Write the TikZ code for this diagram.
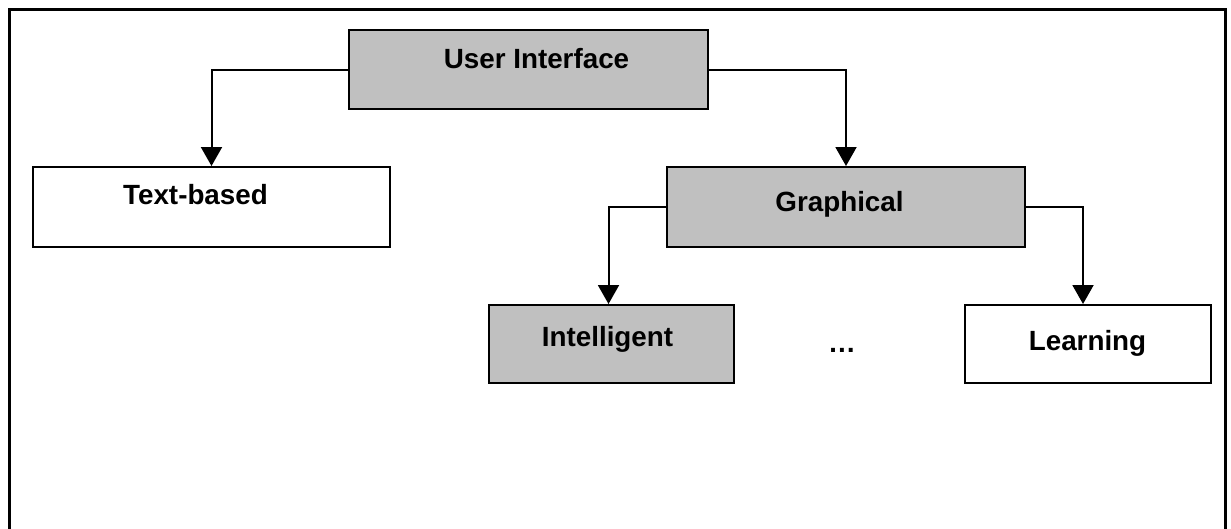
\documentclass[tikz,border=0pt]{standalone}
\usepackage{fontspec}
\setmainfont{Liberation Sans}
\usetikzlibrary{arrows.meta}
\begin{document}
\begin{tikzpicture}[x=1pt,y=-1pt,
  box/.style={draw=black,line width=2pt,minimum width=#1,inner sep=0pt,anchor=north west},
  grey/.style={fill={rgb,255:red,192;green,192;blue,192}},
  lbl/.style={font=\fontsize{27.8}{30}\selectfont\bfseries,anchor=base,inner sep=0pt},
  conn/.style={draw=black,line width=2pt,-{Triangle[width=21pt,length=19pt]}}]
\useasboundingbox (0,0) rectangle (1231,528);
% outer frame, open at the bottom
\draw[line width=3pt] (9,540) -- (9,9) -- (1225,9) -- (1225,540);
% boxes
\node[box=359pt,grey,minimum height=79pt] (ui) at (348,29) {};
\node[box=357pt,minimum height=80pt] (tb) at (32,166) {};
\node[box=358pt,grey,minimum height=80pt] (gr) at (666,166) {};
\node[box=245pt,grey,minimum height=78pt] (in) at (488,304) {};
\node[box=246pt,minimum height=78pt] (le) at (964,304) {};
% labels
\node[lbl] (uit) at (536.5,68) {User Interface};
\node[lbl] (tbt) at (195.5,204) {Text-based};
\node[lbl] (grt) at (839.5,211) {Graphical};
\node[lbl] (int) at (607.5,346) {Intelligent};
\node[lbl] (let) at (1087.5,350) {Learning};
\node[lbl] (dots) at (842,352) {\dots};
% connectors
\draw[conn] (ui.west) -| (tb.north);
\draw[conn] (ui.east) -| (gr.north);
\draw[conn] (gr.west) -| ([xshift=-3pt]in.north);
\draw[conn] (gr.east) -| ([xshift=-5pt]le.north);
\end{tikzpicture}
\end{document}
